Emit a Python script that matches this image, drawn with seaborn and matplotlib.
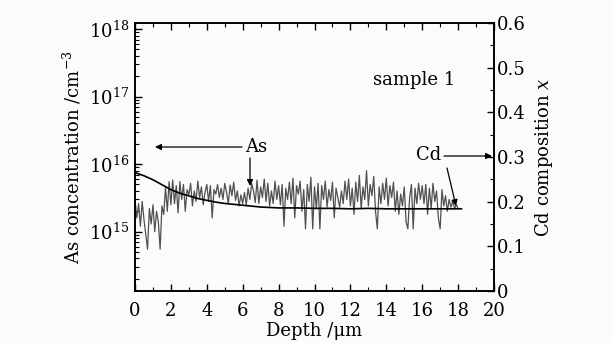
import numpy as np
import pandas as pd
import matplotlib
matplotlib.use("Agg")
import matplotlib.pyplot as plt
import seaborn as sns
from matplotlib.ticker import MultipleLocator, LogLocator, NullFormatter, FixedLocator

# As concentration (units of 1e15 cm^-3), depth 0.0 .. 18.0 step 0.1
as_depth = [round(0.1 * i, 1) for i in range(181)]
as_conc_1e15 = [
    3.0, 1.6, 2.6, 1.2, 2.8, 1.5, 0.9, 0.55, 2.2, 1.3, 2.5, 1.0, 2.0, 1.4, 0.55, 2.4, 1.8, 4.5, 2.0, 5.5, 2.5,
    5.8, 2.6, 4.8, 1.9, 5.5, 3.0, 5.0, 2.0, 4.2, 3.5, 5.2, 2.4, 4.0, 2.8, 5.6, 3.2, 4.6, 2.5, 3.8, 5.0,
    2.8, 4.8, 1.6, 4.2, 3.6, 5.0, 3.2, 4.4, 3.0, 5.2, 3.8, 2.6, 4.9, 3.4, 5.4, 2.9, 4.0, 2.4, 3.5, 2.6,
    3.8, 2.5, 4.4, 3.0, 5.2, 4.0, 2.7, 5.8, 2.6, 4.6, 3.2, 6.0, 2.8, 5.2, 2.4, 4.0, 2.6, 5.6, 3.0, 4.8,
    2.5, 5.0, 1.2, 4.4, 3.0, 5.4, 2.6, 6.2, 1.6, 4.8, 3.6, 5.6, 2.0, 4.2, 1.1, 5.0, 2.8, 6.4, 1.1, 4.6,
    2.2, 5.2, 1.1, 4.8, 3.0, 5.6, 2.3, 4.2, 2.9, 5.4, 1.6, 4.4, 3.2, 2.3, 4.0, 2.6, 5.6, 3.0, 6.0, 2.4,
    4.4, 1.8, 5.4, 2.8, 6.8, 2.2, 4.6, 3.0, 8.0, 2.4, 5.0, 3.4, 6.6, 2.0, 1.1, 4.6, 2.6, 5.2, 3.0, 6.2,
    2.4, 4.8, 3.2, 5.4, 2.0, 4.0, 1.8, 3.6, 2.4, 4.6, 1.4, 1.1, 3.2, 5.0, 1.1, 4.4, 2.6, 5.2, 3.0, 4.8,
    2.6, 5.0, 1.8, 4.4, 2.2, 5.2, 2.8, 4.0, 1.6, 1.1, 4.2, 2.4, 3.4, 2.0, 3.0, 2.3, 2.8, 2.2, 2.5, 2.2,
]

# Cd composition x
cd_depth = [0.0, 0.5, 1.0, 1.5, 2.0, 2.5, 3.0, 3.5, 4.0, 4.5, 5.0, 5.5, 6.0, 6.5, 7.0, 7.5, 8.0,
            9.0, 10.0, 11.0, 12.0, 13.0, 14.0, 15.0, 16.0, 17.0, 18.2]
cd_x = [0.265, 0.258, 0.249, 0.238, 0.227, 0.219, 0.213, 0.207, 0.203, 0.199, 0.196, 0.194, 0.192,
        0.190, 0.188, 0.187, 0.186, 0.186, 0.185, 0.185, 0.184, 0.185, 0.184, 0.184, 0.184, 0.184, 0.184]

x_ticks = [0, 2, 4, 6, 8, 10, 12, 14, 16, 18, 20]
right_ticks = [0, 0.1, 0.2, 0.3, 0.4, 0.5, 0.6]
right_labels = ["0", "0.1", "0.2", "0.3", "0.4", "0.5", "0.6"]

sns.set_theme(style="ticks")
plt.rcParams['font.family'] = ['DejaVu Serif']
plt.rcParams['mathtext.fontset'] = 'dejavuserif'
plt.rcParams['text.color'] = 'black'
plt.rcParams['axes.labelcolor'] = 'black'
plt.rcParams['xtick.color'] = 'black'
plt.rcParams['ytick.color'] = 'black'
FS = 13

df_as = pd.DataFrame({"depth": as_depth, "conc": [v * 1e15 for v in as_conc_1e15]})
df_cd = pd.DataFrame({"depth": cd_depth, "x": cd_x})

fig = plt.figure(figsize=(6.13, 3.43), dpi=100)
fig.patch.set_facecolor("#fbfbfb")
ax = fig.add_axes([135 / 613, 1 - 291 / 343, (494 - 135) / 613, (291 - 23) / 343])
ax.set_facecolor("#fbfbfb")

sns.lineplot(data=df_as, x="depth", y="conc", ax=ax, color="#505050", linewidth=0.9)
ax.set_yscale("log")
ax.set_ylim(1.32e14, 1.23e18)
ax.set_xlim(0, 20)
ax.set_xticks(x_ticks)
ax.xaxis.set_minor_locator(MultipleLocator(1))
ax.yaxis.set_major_locator(FixedLocator([1e15, 1e16, 1e17, 1e18]))
ax.set_yticklabels([r"$10^{15}$", r"$10^{16}$", r"$10^{17}$", r"$10^{18}$"])
ax.yaxis.set_minor_locator(LogLocator(base=10, subs=np.arange(2, 10), numticks=20))
ax.yaxis.set_minor_formatter(NullFormatter())
ax.tick_params(axis="both", which="both", direction="in", top=True, labelsize=FS)
ax.tick_params(axis="x", which="major", pad=8)
ax.tick_params(axis="y", which="major", pad=4)
ax.tick_params(axis="both", which="major", length=5, width=1)
ax.tick_params(axis="both", which="minor", length=3, width=0.8)
ax.set_xlabel("Depth /μm", fontsize=FS, labelpad=1)
ax.set_ylabel(r"As concentration /cm$^{-3}$", fontsize=FS, labelpad=4)
for s in ax.spines.values():
    s.set_linewidth(1.2)
    s.set_color("black")

ax2 = ax.twinx()
sns.lineplot(data=df_cd, x="depth", y="x", ax=ax2, color="black", linewidth=1.2)
ax2.set_ylim(0, 0.6)
ax2.set_yticks(right_ticks)
ax2.set_yticklabels(right_labels)
ax2.yaxis.set_minor_locator(MultipleLocator(0.05))
ax2.tick_params(axis="y", which="both", direction="in", labelsize=FS, pad=2)
ax2.tick_params(axis="y", which="major", length=5, width=1)
ax2.tick_params(axis="y", which="minor", length=3, width=0.8)
ax2.set_ylabel(r"Cd composition $x$", fontsize=FS, labelpad=5)
ax2.set_xlabel("")
for s in ax2.spines.values():
    s.set_linewidth(1.2)
    s.set_color("black")

# annotations (axes-fraction coordinates)
def fx(px):
    return (px - 135) / (494 - 135)

def fy(py):
    return (291 - py) / (291 - 23)

arrow = dict(arrowstyle="-|>", color="black", lw=0.9, mutation_scale=9, shrinkA=0, shrinkB=0)
ax.annotate("", xy=(fx(155), fy(147)), xytext=(fx(242), fy(147)),
            xycoords="axes fraction", textcoords="axes fraction", arrowprops=arrow)
ax.text(fx(256), fy(147), "As", transform=ax.transAxes, fontsize=FS, ha="center", va="center")
ax.annotate("", xy=(fx(250), fy(186)), xytext=(fx(250), fy(158)),
            xycoords="axes fraction", textcoords="axes fraction", arrowprops=arrow)
ax.text(fx(429), fy(155), "Cd", transform=ax.transAxes, fontsize=FS, ha="center", va="center")
ax.annotate("", xy=(fx(492), fy(156)), xytext=(fx(444), fy(156)),
            xycoords="axes fraction", textcoords="axes fraction", arrowprops=arrow)
ax.annotate("", xy=(fx(456), fy(206)), xytext=(fx(447), fy(168)),
            xycoords="axes fraction", textcoords="axes fraction", arrowprops=arrow)
ax.text(fx(414), fy(80), "sample 1", transform=ax.transAxes, fontsize=FS, ha="center", va="center")

fig.savefig("out.png", dpi=100, facecolor=fig.get_facecolor())
